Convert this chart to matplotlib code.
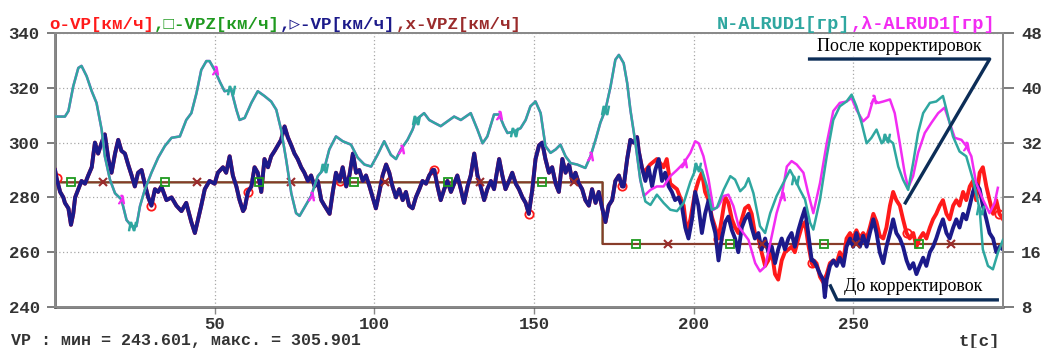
import numpy as np
import matplotlib
matplotlib.use("Agg")
import matplotlib.pyplot as plt
from matplotlib.text import Annotation

# ---------------- data ----------------
# VP before corrections (blue), km/h
t_vp = [0.0, 0.5, 1.6, 2.6, 3.1, 4.2, 5.0, 5.7, 6.3, 7.3, 8.3, 9.4, 10.4, 11.5, 12.5, 13.5, 14.6, 15.6, 16.7, 17.7,
        18.8, 19.8, 20.8, 21.9, 22.9, 24.0, 25.0, 26.0, 27.1, 28.1, 29.2, 30.2, 31.3, 32.3, 33.3, 34.9, 36.5, 38.0, 39.6, 41.1,
        42.7, 43.8, 44.8, 45.8, 46.9, 48.4, 50.0, 51.0, 52.6, 53.6, 54.7, 55.7, 56.8, 57.8, 58.9,
        59.4, 60.4, 61.5, 62.5, 63.5, 64.6, 65.6, 66.7, 67.7, 68.8, 69.8, 70.8, 71.9, 72.9, 74.0, 75.0, 76.0, 77.1, 78.1, 79.2,
        80.2, 81.3, 82.3, 83.4, 84.4, 86.0, 87.0, 88.0, 89.1, 90.1, 91.2, 92.2, 93.3, 94.3, 95.3, 96.4, 97.4, 98.5, 99.5, 100.5,
        101.6, 102.6, 103.7, 104.7, 105.7, 106.8, 107.8, 108.9, 109.9, 110.9, 112.0, 113.0, 114.1, 115.1, 116.2, 117.2, 118.3,
        118.8, 119.8, 120.8, 121.9, 122.9, 124.0, 125.0, 126.0, 127.1, 128.1, 129.2, 130.2, 131.3, 132.3, 133.3, 134.4, 135.4,
        136.5, 137.5, 139.1, 140.1, 141.1, 142.2, 143.2, 144.3, 145.3, 146.4, 147.4, 148.4, 149.5, 150.5, 151.6, 152.6, 153.6,
        154.7, 155.7, 156.8, 157.8, 158.9, 159.9, 161.0, 162.0, 163.0, 164.1, 165.1, 166.1, 167.2, 168.2, 169.3, 170.3,
        171.4, 172.4, 173.4, 174.5, 175.5, 176.6, 177.6,
        178.1, 179.2, 180.2, 181.2, 182.3, 182.8, 183.8, 184.9, 185.9, 187.0, 188.0, 189.1, 190.1, 191.1, 192.2, 193.2, 194.2,
        195.3, 196.3, 197.4, 198.4, 199.5, 200.5, 201.5, 202.6, 203.6, 204.7, 205.7, 206.8, 207.8, 208.8, 209.9, 210.9, 212.0,
        213.0, 214.0, 215.1, 216.1, 217.2, 218.2, 219.2, 220.3, 221.3, 222.4, 223.4, 224.5, 225.5, 226.5, 227.6, 228.6,
        229.7, 230.7, 231.7, 232.8, 233.8, 234.9, 235.9, 237.0,
        237.5, 238.5, 239.6, 240.6, 241.1, 241.7, 242.7, 243.8, 244.8, 245.8, 246.9, 247.9, 249.0, 250.0, 251.0, 252.1, 253.1,
        254.2, 255.2, 256.3, 257.3, 258.3, 259.4, 260.4, 261.5, 262.5, 263.5, 264.6, 265.6, 266.7, 267.7, 268.8, 269.8, 270.8,
        271.9, 272.9, 274.0, 275.0, 276.0, 277.1, 278.1, 279.2, 280.2, 281.3, 282.3, 283.3, 284.4, 285.4, 286.5, 287.5,
        288.5, 289.6, 290.6, 291.7, 292.7, 293.8, 294.8, 295.8, 296.9]
vp_before = [290, 287, 282, 280, 278, 276, 270, 274, 280, 283, 286, 285, 288, 291, 300, 296, 300, 303, 294, 289,
             296, 301, 297, 296, 292, 288, 284, 289, 290, 285, 280, 277, 283, 282, 284, 279, 280, 277, 275, 278,
             271, 267, 272, 277, 283, 286, 285, 289, 291, 289, 295, 288, 284, 279, 275,
             276, 282, 284, 291, 289, 282, 294, 291, 295, 297, 299, 301, 305.9, 302, 299, 296, 294, 291, 289, 286,
             288, 284, 286, 279, 277, 274, 282, 289, 286, 291, 284, 288, 296, 289, 290, 286, 288, 284, 280, 276,
             282, 288, 292, 289, 284, 280, 283, 279, 282, 277, 276, 280, 283, 286, 285, 288, 290,
             290, 284, 279, 283, 286, 282, 285, 288, 283, 278, 284, 288, 296, 288, 284, 279, 283,
             286, 283, 294, 288, 283, 286, 289, 285, 283, 280, 278, 274, 283, 294, 299, 300, 294,
             289, 291, 285, 282, 294, 289, 292, 286, 289, 285, 283, 279, 277, 283, 278, 282,
             276, 271, 277, 279, 286, 288, 284,
             284, 294, 301, 300, 302, 297, 291, 286, 291, 284, 290, 294, 286, 289, 284, 282, 279,
             280, 277, 269, 265, 272, 282, 277, 267, 274, 279, 272, 267, 257, 265, 271, 273, 268,
             265, 260, 269, 272, 274, 269, 265, 267, 261, 265, 260, 262, 256, 261, 265, 261,
             265, 267, 262, 268, 272, 276, 267, 257,
             257, 255, 252, 250, 243.6, 250, 255, 257, 255, 258, 255, 262, 265, 262, 267, 262, 266,
             262, 267, 272, 267, 260, 256, 262, 267, 272, 267, 265, 262, 257, 254, 256, 252, 255,
             258, 255, 260, 262, 265, 269, 272, 267, 265, 269, 272, 269, 274, 272, 277, 282,
             285, 283, 277, 272, 267, 265, 260, 262, 261]

# VP after corrections (red): follows the blue trace up to t_split, then these values
t_split = 184.0
t_vp_late = [184.4, 186.4, 188.5, 190.6, 191.6, 192.7, 193.7, 194.8, 195.8, 196.9, 197.9, 199.0, 200.5, 201.5, 202.6,
             203.6, 204.7, 205.7, 206.8, 207.8, 208.8, 209.9, 210.9, 212.0, 213.0, 214.0, 215.1, 216.1, 217.2, 218.2,
             219.2, 220.3, 221.3, 222.4, 223.4, 224.5, 225.5, 226.5, 227.6, 228.6, 229.7, 230.7, 231.7, 232.8, 233.8,
             234.9, 235.9, 237.0,
             237.5, 238.5, 239.6, 240.6, 241.7, 242.7, 243.8, 244.8, 245.8, 246.9, 247.9, 249.0, 250.0, 251.0, 252.1,
             253.1, 254.2, 255.2, 256.3, 257.3, 258.3, 259.4, 260.4, 261.5, 262.5, 263.5, 264.6, 265.6, 266.7, 267.7,
             268.8, 269.8, 270.8, 271.9, 272.9, 274.0, 275.0, 276.0, 277.1, 278.1, 279.2, 280.2, 281.3, 282.3, 283.3,
             284.4, 285.4, 286.5, 287.5, 288.5, 289.6, 290.6, 291.7, 292.7, 293.8, 294.8, 295.8, 296.9]
vp_after_late = [289, 292, 294, 291, 294, 285, 284, 283, 280, 277, 267, 272, 282, 286, 289,
                 282, 279, 273, 269, 265, 272, 280, 278, 272, 269, 267, 272, 276, 277, 274,
                 267, 265, 260, 255, 257, 260, 252, 250, 257, 260, 261, 262, 260, 265, 269,
                 271, 263, 256,
                 255, 256, 251, 249, 252, 256, 257, 256, 260, 257, 265, 267, 265, 268, 265,
                 267, 265, 269, 274, 271, 266, 265, 269, 277, 282, 279, 277, 272, 267, 265,
                 267, 262, 265, 267, 265, 269, 272, 274, 277, 279, 274, 272, 277, 279, 277,
                 282, 279, 284, 286, 279, 289, 291, 284, 279, 274, 279, 274, 272]

# VPZ set speed, km/h (one step)
vpz_levels = [285.5, 263.0]
vpz_switch = 171.1
t_end = 296.9

# ALRUD1 before corrections (teal), degrees, right axis
t_al = [0.0, 3.1, 4.2, 5.7, 7.3, 8.3, 9.9, 11.5, 13.0, 14.6, 15.6, 17.2, 18.8, 20.8, 22.4, 24.0, 25.5, 26.6, 28.1, 30.2,
        32.3, 34.4, 36.5, 39.1, 41.1, 42.7, 44.3, 45.8, 47.4, 48.4, 50.0, 51.6, 53.1, 55.2, 56.8, 57.8,
        59.4, 61.5, 63.5, 65.6, 67.7, 69.3, 70.8, 72.4, 74.0, 75.5, 76.6, 78.1, 80.2, 82.3, 84.4, 85.9, 88.0, 90.1, 92.7, 94.8,
        96.9, 99.0, 101.0, 103.1, 105.2, 106.8, 108.3, 110.4, 112.0, 113.0, 115.6, 117.2,
        118.75, 120.8, 122.9, 125.0, 127.1, 130.2, 132.3, 133.9, 135.4, 137.5, 139.1, 140.6, 141.7, 143.75, 145.8, 147.4,
        148.9, 150.5, 152.1, 153.6, 155.2, 156.8, 158.3, 159.9, 161.5, 163.5, 165.1, 166.1, 167.7, 169.3, 170.8, 172.4,
        174.0, 175.5, 176.6,
        178.1, 179.2, 180.2, 181.8, 183.3, 184.9, 186.5, 188.5, 190.6, 192.7, 194.8, 196.9, 199.0, 201.0, 202.6, 204.2,
        205.7, 207.3, 209.4, 211.5, 213.0, 214.6, 216.1, 217.2, 218.75, 220.8, 222.4, 224.0, 226.0, 228.1, 230.2, 231.8,
        233.3, 234.9, 236.5,
        237.5, 239.6, 241.7, 243.75, 245.8, 247.9, 249.5, 251.0, 252.6, 254.2, 255.7, 257.3, 258.9, 260.4, 262.5, 264.1,
        265.6, 267.2, 268.75, 270.3, 271.9, 274.0, 276.0, 278.1, 279.2, 281.25, 283.3, 285.4, 287.5, 289.6, 290.6, 292.2,
        293.75, 295.3, 296.9]
alrud_before = [35.8, 35.8, 36.6, 40.2, 42.9, 43.2, 41.7, 39.5, 37.8, 33.9, 30.0, 26.6, 24.6, 23.7, 20.7, 19.8, 19.8, 22.7, 25.1, 27.6,
                29.8, 31.5, 32.7, 32.9, 35.3, 36.3, 39.2, 42.6, 43.9, 43.9, 42.6, 40.9, 39.5, 39.7, 36.8, 35.3,
                35.6, 37.8, 39.5, 38.8, 38.0, 36.8, 33.9, 29.5, 24.6, 21.7, 21.3, 22.5, 24.2, 27.1, 28.3, 31.0, 32.9, 32.2, 31.7, 29.8,
                28.8, 28.5, 30.2, 32.2, 30.2, 29.6, 31.0, 32.4, 33.9, 35.3, 36.3, 35.3,
                34.9, 34.4, 35.1, 35.8, 35.3, 36.3, 33.9, 31.9, 32.9, 36.1, 36.1, 34.4, 33.4, 33.6, 34.1, 35.3,
                37.3, 38.0, 36.3, 31.5, 30.5, 31.0, 31.7, 30.0, 29.0, 28.8, 28.5, 28.3, 30.0, 32.4, 34.9, 36.8,
                40.2, 44.1, 44.8,
                43.6, 40.7, 36.8, 31.9, 26.6, 23.4, 22.9, 24.4, 23.2, 22.2, 22.0, 23.2, 26.3, 28.5, 28.0, 25.6,
                22.2, 22.5, 25.1, 27.1, 26.6, 24.9, 25.6, 26.8, 24.6, 19.8, 18.8, 21.7, 24.2, 26.1, 28.0, 26.6,
                25.1, 23.7, 20.3,
                19.3, 23.7, 30.0, 35.3, 37.3, 38.0, 39.0, 37.3, 34.9, 31.9, 32.7, 33.9, 31.9, 32.7, 31.9, 28.5,
                26.6, 25.1, 29.0, 33.4, 36.3, 37.8, 38.0, 38.8, 36.8, 32.9, 30.7, 30.0, 26.6, 22.2, 16.4, 14.0,
                13.5, 15.9, 17.8]

# ALRUD1 after corrections (magenta): same as teal up to t_split, then these values
t_al_late = [184.4, 186.5, 188.5, 190.6, 192.7, 194.8, 196.9, 199.0, 200.5, 201.6, 203.1, 204.7, 206.25, 207.8, 209.4,
             210.9, 212.5, 214.1, 215.6, 217.2, 219.3, 220.8, 222.4, 224.0, 226.0, 227.6, 229.2, 230.7, 232.3, 234.4,
             235.9, 237.5, 239.6, 241.7, 243.75, 245.8, 247.9, 249.5, 251.0, 253.1, 254.7, 256.25, 257.8, 259.4, 261.5,
             263.0, 264.6, 266.1, 267.2, 268.75, 270.3, 272.4, 274.5, 276.6, 278.6, 280.2, 281.8, 283.9, 285.4, 287.0,
             288.5, 290.6, 292.7, 294.3, 295.3]
alrud_after_late = [24.2, 25.1, 25.6, 25.6, 27.1, 28.0, 29.0, 30.5, 32.2, 31.9, 30.0, 26.6, 22.2, 22.7, 24.2,
                    24.4, 22.7, 19.8, 18.8, 17.8, 14.4, 13.2, 13.9, 17.3, 21.7, 24.2, 28.5, 29.3, 28.8, 27.6,
                    24.6, 21.7, 26.1, 31.9, 36.6, 37.8, 38.0, 38.5, 36.8, 35.1, 35.8, 38.3, 37.8, 38.0, 38.3,
                    36.3, 31.9, 27.6, 25.4, 27.1, 30.5, 33.4, 34.9, 36.3, 37.1, 34.9, 32.7, 32.4, 31.5, 30.0,
                    26.1, 23.7, 21.7, 23.2, 25.4]

vp_stats = "VP : мин = 243.601, макс. = 305.901"

# ---------------- derived series ----------------
t_vp = np.array(t_vp)
vp_before = np.array(vp_before, dtype=float)
early = t_vp < t_split
t_after = np.concatenate([t_vp[early], t_vp_late])
vp_after = np.concatenate([vp_before[early], vp_after_late])

t_al = np.array(t_al)
alrud_before = np.array(alrud_before)
early_al = t_al < t_split
t_al2 = np.concatenate([t_al[early_al], t_al_late])
alrud_after = np.concatenate([alrud_before[early_al], alrud_after_late])

t_vpz = np.arange(0, t_end + 0.5, 0.5)
vpz = np.where(t_vpz < vpz_switch, vpz_levels[0], vpz_levels[1])


def marks(t, start, step=29.5):
    return list(np.searchsorted(t, np.arange(start, t[-1], step)))


RED = '#ff1a1a'
GREEN = '#1f9a1f'
NAVY = '#1c1a8a'
BROWN = '#9a2b2b'
TEAL = '#2fa7a0'
MAGENTA = '#f22cf2'
MONO = ['Liberation Mono', 'DejaVu Sans Mono', 'DejaVu Sans']

fig = plt.figure(figsize=(10.44, 3.48), dpi=100)
ax = fig.add_axes([0.0527, 0.1178, 0.908, 0.7874])

ax.plot(t_vpz, vpz, color=GREEN, lw=1.4, drawstyle='steps-post', zorder=1)
ax.plot(t_vpz, vpz, color=BROWN, lw=1.6, drawstyle='steps-post', alpha=0.85, zorder=2)
ax.plot(t_vpz, vpz, ls='none', marker='s', ms=6, mfc='none', mec=GREEN, mew=1.3,
        markevery=marks(t_vpz, 4.7), zorder=5)
ax.plot(t_vpz, vpz, ls='none', marker='x', ms=6, mec=BROWN, mew=1.5,
        markevery=marks(t_vpz, 15.0), zorder=5)
ax.plot(t_after, vp_after, color=RED, lw=2.8, marker='o', ms=6, mfc='none', mec=RED, mew=1.3,
        markevery=marks(t_after, 0.5), zorder=3)
ax.plot(t_vp, vp_before, color=NAVY, lw=2.8, zorder=4)

ax.set_xlim(0, t_end)
ax.set_ylim(240, 340)
ax.set_xticks([50, 100, 150, 200, 250])
ax.set_yticks(range(240, 341, 20))
ax.grid(True, ls=(0, (1, 2)), color='#a8a8a8', lw=0.9)

ax2 = ax.twinx()
ax2.plot(t_al2, alrud_after, color=MAGENTA, lw=1.8, zorder=2)
ax2.plot(t_al, alrud_before, color=TEAL, lw=1.8, zorder=3)
ax2.plot(t_al2, alrud_after, ls='none', marker='$\\lambda$', ms=6, color=MAGENTA,
         markevery=marks(t_al2, 19.8), zorder=4)
ax2.plot(t_al, alrud_before, ls='none', marker='$N$', ms=6, color=TEAL,
         markevery=marks(t_al, 24.0), zorder=4)
ax2.set_ylim(8, 48)
ax2.set_yticks(range(8, 49, 8))

for a in (ax, ax2):
    for s in a.spines.values():
        s.set_color('#8a8a8a')
        s.set_linewidth(1.4)
ax.spines['left'].set_color('#555555')
ax.spines['bottom'].set_color('#555555')
ax.spines['left'].set_linewidth(1.8)
ax.spines['bottom'].set_linewidth(1.8)

ax.tick_params(axis='y', direction='out', length=6, width=1.2, color='#666666', pad=5)
ax.tick_params(axis='x', direction='out', length=5, width=1.0, color='#888888', pad=2)
ax2.tick_params(axis='y', direction='out', length=8, width=1.2, color='#666666', pad=5)
for lab in ax.get_xticklabels() + ax.get_yticklabels() + ax2.get_yticklabels():
    lab.set_fontfamily(MONO)
    lab.set_fontweight('bold')
    lab.set_fontsize(12.5)
    lab.set_color('#333333')


def chained(x, y, pieces, size):
    t = fig.text(x, y, pieces[0][0], color=pieces[0][1], family=MONO, weight='bold',
                 fontsize=size, va='bottom', ha='left')
    for s, c in pieces[1:]:
        t = fig.add_artist(Annotation(s, xy=(1, 0), xycoords=t, va='bottom', ha='left',
                                      color=c, family=MONO, weight='bold', fontsize=size))


chained(0.047, 0.908, [("o-VP[км/ч]", RED), (",□-VPZ[км/ч]", GREEN),
                       (",▷-VP[км/ч]", NAVY), (",x-VPZ[км/ч]", BROWN)], 12.6)
chained(0.687, 0.906, [("N-ALRUD1[гр]", TEAL), (",λ-ALRUD1[гр]", MAGENTA)], 13.4)

fig.text(0.011, 0.022, vp_stats, family=MONO, weight='bold', fontsize=12, color='#333333',
         va='center', ha='left')
fig.text(0.958, 0.02, "t[с]", family=MONO, weight='bold', fontsize=12.5, color='#333333',
         va='center', ha='right')

# callouts
ANN = '#0c2d57'
ax2.text(0.891, 0.95, "После корректировок", transform=ax.transAxes, family='Liberation Serif',
         fontsize=13, ha='center', va='center', zorder=11,
         bbox=dict(facecolor='white', edgecolor='none', pad=0.5))
ax2.text(0.905, 0.075, "До корректировок", transform=ax.transAxes, family='Liberation Serif',
         fontsize=13, ha='center', va='center', zorder=11,
         bbox=dict(facecolor='white', edgecolor='none', pad=0.5))
ax2.plot([0.796, 0.986, 0.897], [0.905, 0.905, 0.380], transform=ax.transAxes, color=ANN,
         lw=2.4, clip_on=False, zorder=10)
ax2.plot([0.818, 0.825, 0.994], [0.077, 0.026, 0.026], transform=ax.transAxes, color=ANN,
         lw=2.4, clip_on=False, zorder=10)

fig.savefig("out.png", dpi=100, facecolor='white')
